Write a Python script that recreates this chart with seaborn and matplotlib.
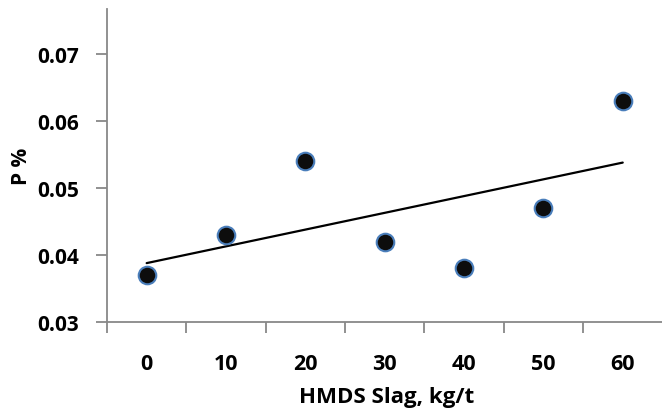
import matplotlib
matplotlib.use('Agg')
import matplotlib.pyplot as plt
import seaborn as sns
import pandas as pd

# data
slag = [0, 10, 20, 30, 40, 50, 60]
p_pct = [0.037, 0.043, 0.054, 0.042, 0.038, 0.047, 0.063]
y_ticks = [0.03, 0.04, 0.05, 0.06, 0.07]

df = pd.DataFrame({'slag': slag, 'p': p_pct})

sns.set_style('white')
plt.rcParams['font.family'] = ['Open Sans', 'DejaVu Sans']
plt.rcParams['font.weight'] = 'bold'
plt.rcParams['text.color'] = 'black'
plt.rcParams['axes.labelcolor'] = 'black'
plt.rcParams['xtick.labelcolor'] = 'black'
plt.rcParams['ytick.labelcolor'] = 'black'

fig = plt.figure(figsize=(6.62, 4.10), dpi=100)
ax = fig.add_axes([0.1616, 0.2122, 0.845, 0.7634])

# linear trend line
sns.regplot(data=df, x='slag', y='p', scatter=False, ci=None, ax=ax,
            line_kws={'color': 'black', 'lw': 1.6})
sns.scatterplot(data=df, x='slag', y='p', ax=ax, s=160, color='#0d0d0d',
                edgecolor='#4a7ebb', linewidth=1.5, zorder=5)

ax.set_xlim(-5, 65.5)
ax.set_ylim(0.03, 0.0767)
ax.set_yticks(y_ticks)
ax.set_yticklabels([f'{v:.2f}' for v in y_ticks], fontweight='bold')
ax.set_xticks(slag)
ax.set_xticklabels([str(v) for v in slag], fontweight='bold')
ax.set_xticks([-5, 5, 15, 25, 35, 45, 55], minor=True)

ax.tick_params(axis='x', which='major', length=0, labelsize=15.5, pad=22, labelcolor='black')
ax.tick_params(axis='x', which='minor', length=8, width=1.3, color='#888888', direction='out', bottom=True)
ax.tick_params(axis='y', which='major', length=8, width=1.3, color='#888888', direction='out', left=True,
               labelsize=15, pad=12, labelcolor='black')

for s in ['top', 'right']:
    ax.spines[s].set_visible(False)
for s in ['left', 'bottom']:
    ax.spines[s].set_color('#888888')
    ax.spines[s].set_linewidth(1.3)

ax.set_xlabel('HMDS Slag, kg/t', fontsize=16, fontweight='bold', labelpad=9, color='black')
ax.set_ylabel('P %', fontsize=15, fontweight='bold', labelpad=4, color='black')

fig.savefig('out.png', dpi=100)
